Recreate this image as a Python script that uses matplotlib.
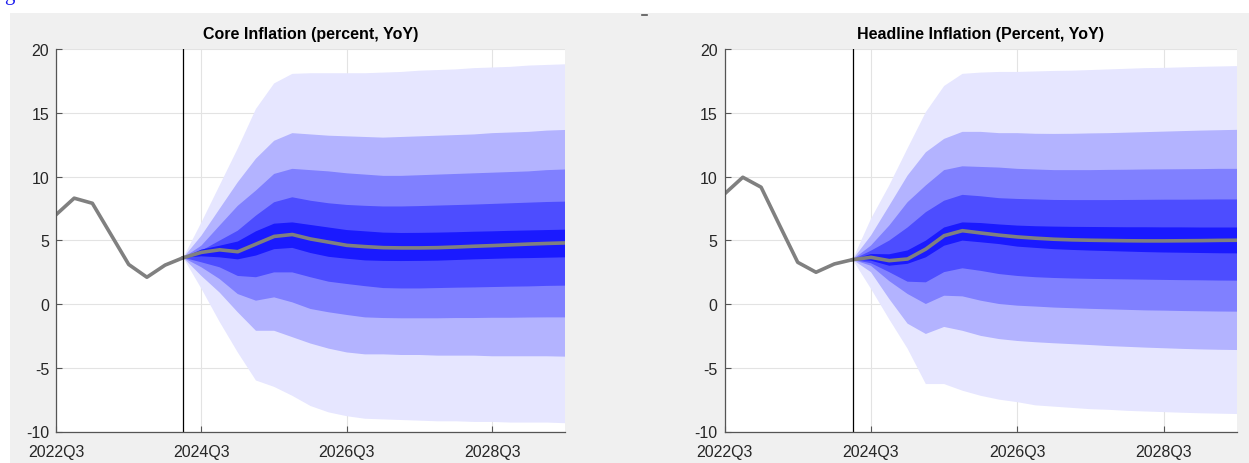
import matplotlib
matplotlib.use("Agg")
import matplotlib.pyplot as plt
from matplotlib.patches import Rectangle
from matplotlib.lines import Line2D

plt.rcParams['font.family'] = ['Liberation Sans Narrow', 'Liberation Sans', 'DejaVu Sans']
plt.rcParams['axes.unicode_minus'] = False

# ---------------- data ----------------
quarters = ['2022Q3', '2022Q4', '2023Q1', '2023Q2', '2023Q3', '2023Q4', '2024Q1', '2024Q2',
            '2024Q3', '2024Q4', '2025Q1', '2025Q2', '2025Q3', '2025Q4', '2026Q1', '2026Q2',
            '2026Q3', '2026Q4', '2027Q1', '2027Q2', '2027Q3', '2027Q4', '2028Q1', '2028Q2',
            '2028Q3', '2028Q4', '2029Q1', '2029Q2', '2029Q3']
tick_labels = ['2022Q3', '2024Q3', '2026Q3', '2028Q3']
forecast_start = '2024Q2'

titles = ['Core Inflation (percent, YoY)', 'Headline Inflation (Percent, YoY)']

# history 2022Q3..2024Q2
core_hist = [7.0, 8.3, 7.9, 5.5, 3.1, 2.1, 3.05, 3.63]
head_hist = [8.63, 9.94, 9.16, 6.2, 3.27, 2.49, 3.14, 3.48]

# forecast 2024Q2..2029Q3 : median and bands (outer=1 ... inner=5)
core_med = [3.63, 4.05, 4.25, 4.1, 4.7, 5.3, 5.45, 5.1, 4.85, 4.6, 4.5, 4.42, 4.4, 4.4, 4.42,
            4.47, 4.53, 4.58, 4.64, 4.7, 4.75, 4.79]
core_u1 = [3.63, 6.4, 9.3, 12.2, 15.3, 17.3, 18.05, 18.1, 18.1, 18.1, 18.1, 18.15, 18.2, 18.3,
           18.35, 18.4, 18.5, 18.55, 18.6, 18.7, 18.75, 18.8]
core_l1 = [3.63, 1.2, -1.4, -3.8, -6.0, -6.5, -7.2, -8.0, -8.5, -8.8, -9.0, -9.05, -9.1, -9.15,
           -9.2, -9.2, -9.25, -9.25, -9.3, -9.3, -9.3, -9.35]
core_u2 = [3.63, 5.36, 7.46, 9.55, 11.4, 12.8, 13.4, 13.3, 13.2, 13.15, 13.1, 13.05, 13.1, 13.15,
           13.2, 13.25, 13.3, 13.4, 13.45, 13.5, 13.6, 13.65]
core_l2 = [3.63, 2.2, 0.9, -0.65, -2.1, -2.1, -2.6, -3.1, -3.5, -3.8, -3.95, -3.95, -4.0, -4.0,
           -4.05, -4.05, -4.05, -4.1, -4.1, -4.1, -4.1, -4.13]
core_u3 = [3.63, 4.58, 6.15, 7.7, 8.9, 10.2, 10.6, 10.5, 10.4, 10.25, 10.15, 10.05, 10.05, 10.1,
           10.15, 10.2, 10.25, 10.3, 10.35, 10.4, 10.5, 10.55]
core_l3 = [3.63, 2.88, 1.96, 0.78, 0.26, 0.52, 0.13, -0.39, -0.65, -0.86, -1.05, -1.1, -1.12,
           -1.12, -1.12, -1.1, -1.1, -1.08, -1.08, -1.06, -1.05, -1.05]
core_u4 = [3.63, 4.18, 4.97, 5.75, 6.93, 7.98, 8.37, 8.1, 7.9, 7.77, 7.7, 7.65, 7.65, 7.68, 7.72,
           7.76, 7.8, 7.85, 7.9, 7.95, 8.0, 8.03]
core_l4 = [3.63, 3.27, 2.88, 2.2, 2.1, 2.48, 2.48, 2.1, 1.75, 1.57, 1.4, 1.25, 1.22, 1.22, 1.25,
           1.28, 1.3, 1.33, 1.36, 1.38, 1.42, 1.44]
core_u5 = [3.63, 4.27, 4.57, 4.9, 5.7, 6.3, 6.4, 6.2, 6.0, 5.8, 5.7, 5.6, 5.57, 5.58, 5.6, 5.63,
           5.67, 5.7, 5.74, 5.77, 5.8, 5.83]
core_l5 = [3.63, 3.74, 3.66, 3.5, 3.8, 4.3, 4.4, 4.0, 3.7, 3.55, 3.42, 3.38, 3.37, 3.38, 3.4,
           3.45, 3.5, 3.54, 3.58, 3.6, 3.63, 3.66]

head_med = [3.48, 3.66, 3.4, 3.53, 4.31, 5.36, 5.75, 5.57, 5.4, 5.26, 5.16, 5.08, 5.03, 5.0,
            4.98, 4.96, 4.95, 4.95, 4.96, 4.97, 4.99, 5.0]
head_u1 = [3.48, 6.67, 9.3, 12.2, 15.05, 17.1, 18.05, 18.15, 18.2, 18.2, 18.24, 18.28, 18.3,
           18.35, 18.4, 18.45, 18.5, 18.52, 18.56, 18.6, 18.63, 18.66]
head_l1 = [3.48, 1.2, -1.2, -3.5, -6.28, -6.28, -6.8, -7.2, -7.5, -7.7, -7.95, -8.05, -8.15,
           -8.25, -8.3, -8.38, -8.43, -8.48, -8.53, -8.57, -8.6, -8.63]
head_u2 = [3.48, 5.36, 7.7, 10.07, 11.9, 12.95, 13.5, 13.5, 13.4, 13.4, 13.35, 13.34, 13.35,
           13.38, 13.4, 13.44, 13.48, 13.52, 13.56, 13.6, 13.63, 13.66]
head_l2 = [3.48, 2.5, 0.4, -1.54, -2.35, -1.8, -2.1, -2.5, -2.75, -2.9, -3.0, -3.08, -3.15,
           -3.22, -3.3, -3.36, -3.42, -3.47, -3.52, -3.56, -3.59, -3.61]
head_u3 = [3.48, 4.58, 6.15, 7.98, 9.3, 10.5, 10.8, 10.75, 10.7, 10.6, 10.55, 10.5, 10.5, 10.5,
           10.52, 10.53, 10.55, 10.56, 10.57, 10.58, 10.6, 10.6]
head_l3 = [3.48, 3.0, 1.8, 0.79, 0.0, 0.65, 0.6, 0.26, 0.0, -0.13, -0.2, -0.28, -0.33, -0.38,
           -0.42, -0.46, -0.5, -0.52, -0.55, -0.57, -0.59, -0.6]
head_u4 = [3.48, 4.18, 4.97, 6.0, 7.2, 8.1, 8.56, 8.45, 8.3, 8.24, 8.2, 8.16, 8.15, 8.15, 8.15,
           8.16, 8.17, 8.18, 8.18, 8.19, 8.2, 8.2]
head_l4 = [3.48, 3.2, 2.5, 1.75, 1.7, 2.5, 2.8, 2.6, 2.35, 2.2, 2.1, 2.04, 2.0, 1.97, 1.95,
           1.93, 1.91, 1.89, 1.87, 1.86, 1.84, 1.83]
head_u5 = [3.48, 3.92, 3.9, 4.2, 4.97, 6.0, 6.4, 6.35, 6.24, 6.15, 6.1, 6.07, 6.05, 6.04, 6.03,
           6.02, 6.02, 6.01, 6.01, 6.0, 6.0, 6.0]
head_l5 = [3.48, 3.4, 3.0, 3.15, 3.66, 4.57, 4.97, 4.84, 4.7, 4.5, 4.4, 4.3, 4.24, 4.19, 4.15,
           4.11, 4.07, 4.04, 4.02, 4.0, 3.98, 3.97]

band_colors = ['#e6e6ff', '#b3b3ff', '#8080ff', '#4d4dff', '#1a1aff']

# ---------------- figure ----------------
W, H = 1249, 464
fig = plt.figure(figsize=(W / 100, H / 100), dpi=100, facecolor='white')
fig.add_artist(Rectangle((10 / W, 0), 1 - 10 / W, 1 - 14 / H, transform=fig.transFigure,
                         facecolor='#f0f0f0', edgecolor='none', zorder=-10))
fig.text(4 / W, 1.0, 'g', color='#1a1aee', fontsize=15, va='baseline', ha='left',
         family=['Liberation Serif', 'DejaVu Serif'])
fig.add_artist(Line2D([642 / W, 647 / W], [1 - 16 / H, 1 - 16 / H], transform=fig.transFigure,
                      color='#555555', lw=1.2))

ax_rects = [(56 / W, (H - 432.5) / H, 509 / W, 382.5 / H),
            (724.5 / W, (H - 432.5) / H, 512.5 / W, 382.5 / H)]

datasets = [
    (core_hist, core_med, [(core_u1, core_l1), (core_u2, core_l2), (core_u3, core_l3),
                           (core_u4, core_l4), (core_u5, core_l5)]),
    (head_hist, head_med, [(head_u1, head_l1), (head_u2, head_l2), (head_u3, head_l3),
                           (head_u4, head_l4), (head_u5, head_l5)]),
]

idx = list(range(len(quarters)))
fs = quarters.index(forecast_start)
hist_x = idx[:fs + 1]
fc_x = idx[fs:]

for rect, title, (hist, med, bands) in zip(ax_rects, titles, datasets):
    ax = fig.add_axes(rect)
    ax.set_facecolor('white')
    for (u, l), c in zip(bands, band_colors):
        ax.fill_between(fc_x, l, u, facecolor=c, edgecolor='none', zorder=2)
    ax.plot(hist_x, hist, color='#808080', lw=2.6, zorder=4, solid_joinstyle='round')
    ax.plot(fc_x, med, color='#808080', lw=2.6, zorder=4, solid_joinstyle='round')
    ax.axvline(fs, color='black', lw=0.9, zorder=5)

    ax.set_xlim(0, len(quarters) - 1)
    ax.set_ylim(-10, 20)
    ax.set_yticks([-10, -5, 0, 5, 10, 15, 20])
    ax.set_xticks([quarters.index(t) for t in tick_labels])
    ax.set_xticklabels(tick_labels)
    ax.grid(True, color='#e3e3e3', lw=0.8, zorder=0)
    ax.set_axisbelow(True)
    for s in ['top', 'right']:
        ax.spines[s].set_visible(False)
    for s in ['left', 'bottom']:
        ax.spines[s].set_color('#555555')
        ax.spines[s].set_linewidth(0.9)
        ax.spines[s].set_zorder(6)
    ax.tick_params(direction='in', length=4, width=0.8, color='#555555',
                   labelcolor='#262626', labelsize=11.5)
    ax.tick_params(axis='x', pad=9)
    ax.tick_params(axis='y', pad=5)
    ax.set_title(title, fontsize=11.5, fontweight='bold', color='black', pad=8)

fig.savefig('out.png', dpi=100, facecolor=fig.get_facecolor())
